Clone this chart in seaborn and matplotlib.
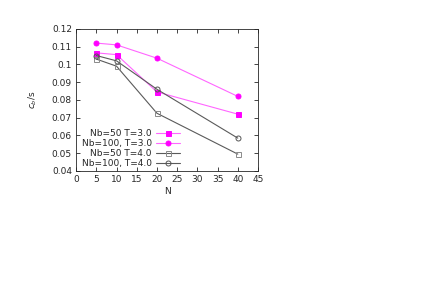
import matplotlib
matplotlib.use('Agg')
import matplotlib.pyplot as plt
import seaborn as sns
import pandas as pd

# values
n_values = [5, 10, 20, 40]
nb50_t3 = [0.1065, 0.1055, 0.0845, 0.0720]
nb100_t3 = [0.1120, 0.1110, 0.1035, 0.0820]
nb50_t4 = [0.1030, 0.0990, 0.0725, 0.0495]
nb100_t4 = [0.1050, 0.1020, 0.0860, 0.0585]
labels = ['Nb=50 T=3.0', 'Nb=100, T=3.0', 'Nb=50 T=4.0', 'Nb=100, T=4.0']

sns.set_style('ticks')
plt.rcParams['font.family'] = ['DejaVu Sans']

rows = []
for lab, vals in zip(labels, [nb50_t3, nb100_t3, nb50_t4, nb100_t4]):
    for n, v in zip(n_values, vals):
        rows.append({'N': n, 'cb': v, 'series': lab})
df = pd.DataFrame(rows)

fig = plt.figure(figsize=(4.3, 3.04), dpi=100)
ax = fig.add_axes([0.177, 0.4375, 0.423, 0.4675])

styles = {
    labels[0]: dict(color='#ff66ff', marker='s', mfc='#ff00ff', mec='#ff00ff'),
    labels[1]: dict(color='#ff66ff', marker='o', mfc='#ff00ff', mec='#ff00ff'),
    labels[2]: dict(color='#5a5a5a', marker='s', mfc='none', mec='#8a8a8a'),
    labels[3]: dict(color='#5a5a5a', marker='o', mfc='none', mec='#555555'),
}
for lab in labels:
    sub = df[df['series'] == lab]
    st = styles[lab]
    sns.lineplot(data=sub, x='N', y='cb', ax=ax, color=st['color'], lw=0.8,
                 marker=st['marker'], markerfacecolor=st['mfc'],
                 markeredgecolor=st['mec'], markersize=3.6,
                 markeredgewidth=0.7, label=lab)

ax.set_xlim(0, 45)
ax.set_ylim(0.04, 0.12)
ax.set_xticks(range(0, 50, 5))
ax.set_yticks([0.04, 0.05, 0.06, 0.07, 0.08, 0.09, 0.1, 0.11, 0.12])
ax.set_yticklabels(['0.04', '0.05', '0.06', '0.07', '0.08', '0.09', '0.1', '0.11', '0.12'])
ax.tick_params(direction='in', top=True, right=True, labelsize=6.5, length=3, width=0.6, pad=3)
for sp in ax.spines.values():
    sp.set_linewidth(0.6)
ax.set_xlabel('N', fontsize=6.5, labelpad=2)
ax.set_ylabel('$c_b$/s', fontsize=6.5, labelpad=9)

ax.legend(loc='lower left', bbox_to_anchor=(-0.01, -0.03), frameon=False, fontsize=6.5,
          markerfirst=False, handlelength=2.6, labelspacing=0.1, borderpad=0.3,
          handletextpad=0.5)

fig.savefig('out.png', dpi=100)
